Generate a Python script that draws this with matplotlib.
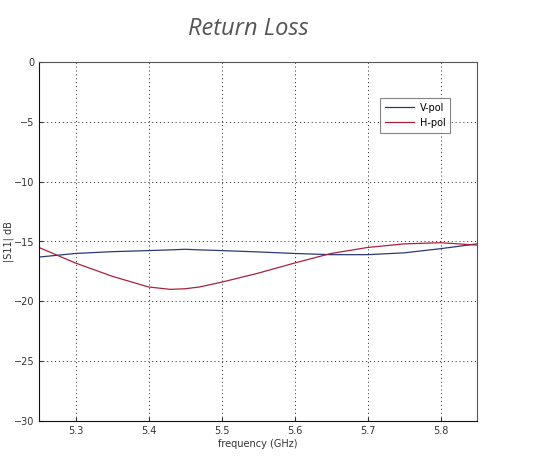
import matplotlib.pyplot as plt

# frequency points (GHz) and |S11|
freq = [5.25, 5.30, 5.35, 5.40, 5.43, 5.45, 5.47, 5.50, 5.55, 5.60, 5.65, 5.70, 5.75, 5.80, 5.85]
v_pol = [-16.3, -16.0, -15.85, -15.76, -15.7, -15.65, -15.7, -15.76, -15.87, -16.0, -16.1, -16.1, -15.95, -15.6, -15.2]
h_pol = [-15.5, -16.8, -17.9, -18.8, -19.0, -18.95, -18.8, -18.4, -17.65, -16.8, -16.0, -15.5, -15.2, -15.1, -15.3]

x_ticks = [5.3, 5.4, 5.5, 5.6, 5.7, 5.8]
y_ticks = [0, -5, -10, -15, -20, -25, -30]

fig = plt.figure(figsize=(5.43, 4.73), dpi=100)
ax = fig.add_axes([39 / 543, 1 - 421 / 473, 438 / 543, 359 / 473])

ax.plot(freq, v_pol, color='#2b3a72', lw=0.9, label='V-pol')
ax.plot(freq, h_pol, color='#a8223c', lw=0.9, label='H-pol')

ax.set_xlim(5.25, 5.85)
ax.set_ylim(-30, 0)
ax.set_xticks(x_ticks)
ax.set_xticklabels([str(t) for t in x_ticks])
ax.set_yticks(y_ticks)
ax.grid(True, color='#222222', linestyle=(0, (1, 3)), lw=0.7)
ax.tick_params(labelsize=7, colors='#333333', direction='in', length=3)
for side in ax.spines.values():
    side.set_color('#555555')
    side.set_linewidth(0.8)
ax.spines['left'].set_color('#111111')
ax.spines['bottom'].set_color('#111111')

ax.set_xlabel('frequency (GHz)', fontsize=7, color='#333333', labelpad=2)
ax.set_ylabel('|S11| dB', fontsize=7, color='#333333', labelpad=0)

leg = ax.legend(loc='upper left', bbox_to_anchor=(341 / 438, 1 - 36 / 359),
                fontsize=7, frameon=True, fancybox=False, handlelength=3.0,
                handletextpad=0.6, borderpad=0.5, labelspacing=0.5,
                borderaxespad=0)
leg.get_frame().set_edgecolor('#666666')
leg.get_frame().set_linewidth(0.8)

fig.text(0.457, 0.965, 'Return Loss', ha='center', va='top', fontsize=17,
         style='italic', color='#555555', family='Open Sans')

fig.savefig('out.png', dpi=100)
